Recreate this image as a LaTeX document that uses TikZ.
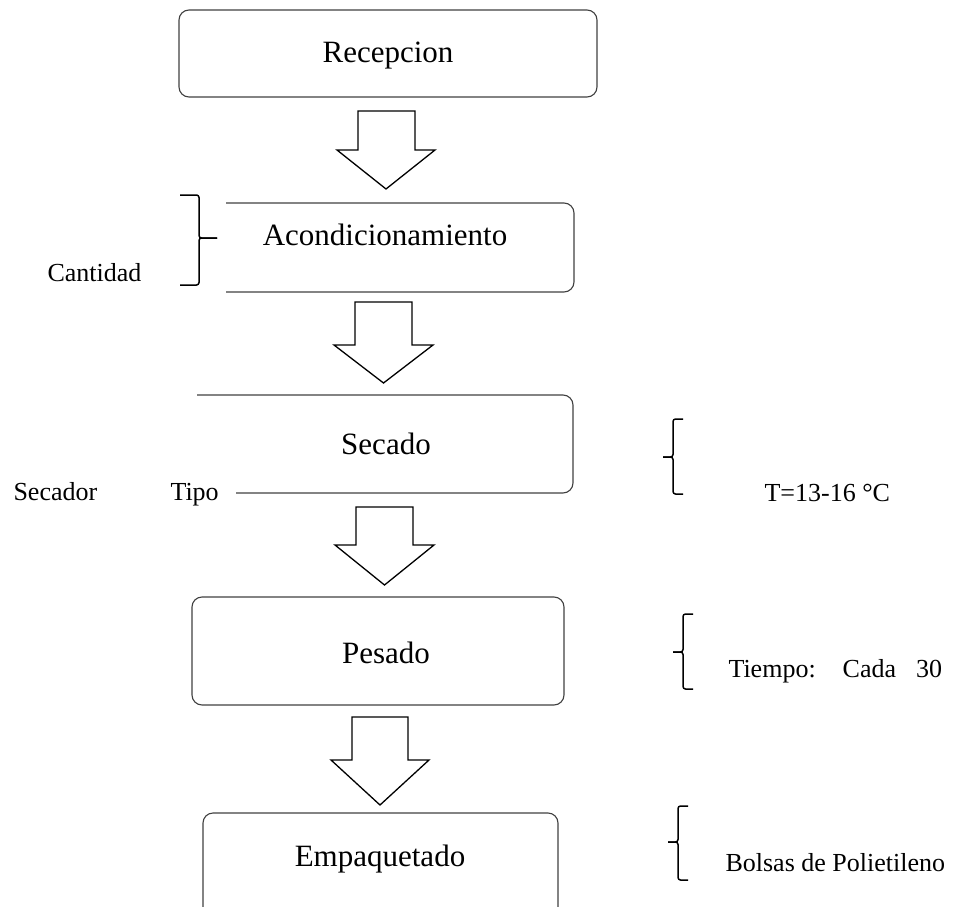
\documentclass[tikz,border=0pt]{standalone}
\usepackage{fontspec}
\setmainfont{Liberation Serif}
\begin{document}
\begin{tikzpicture}[x=1pt,y=-1pt,
  boxline/.style={draw=black!75, line width=1.1pt, rounded corners=10pt},
  blockarrow/.style={draw=black, line width=1.3pt, line join=miter},
  bracel/.style={draw=black, line width=1.5pt, rounded corners=2.5pt},
  boxtext/.style={anchor=base, font=\fontsize{31}{37}\selectfont},
  labeltext/.style={anchor=base west, font=\fontsize{26}{31}\selectfont}]
\useasboundingbox (0,0) rectangle (961,907);
\clip (0,0) rectangle (961,907);
% boxes
\draw[boxline] (179,10) rectangle (597,97);
\draw[boxline] (226,203) -- (574,203) -- (574,292) -- (226,292);
\draw[boxline] (197,395) -- (573,395) -- (573,493) -- (236,493);
\draw[boxline] (192,597) rectangle (564,705);
\draw[boxline] (203,813) rectangle (558,920);
% box texts
\node[boxtext] (rec) at (388,63) {Recepcion};
\node[boxtext] (aco) at (385,245) {Acondicionamiento};
\node[boxtext] (sec) at (386,454) {Secado};
\node[boxtext] (pes) at (386,663) {Pesado};
\node[boxtext] (emp) at (380,866) {Empaquetado};
% block arrows
\draw[blockarrow] (358,111) -- (415,111) -- (415,150) -- (435,150) -- (386,189) -- (337,150) -- (358,150) -- cycle;
\draw[blockarrow] (355,302) -- (412,302) -- (412,345) -- (433,345) -- (383.5,383) -- (334,345) -- (355,345) -- cycle;
\draw[blockarrow] (356,507) -- (413,507) -- (413,545) -- (434,545) -- (384.5,585) -- (335,545) -- (356,545) -- cycle;
\draw[blockarrow] (352,717) -- (408,717) -- (408,760) -- (429,760) -- (380,805) -- (331,760) -- (352,760) -- cycle;
% braces
\draw[bracel] (180,195) -- (199,195) -- (199,238) -- (217,238);
\draw[bracel] (217,238) -- (199,238) -- (199,285) -- (180,285);
\draw[bracel] (683,419) -- (673,419) -- (673,457) -- (663,457);
\draw[bracel] (663,457) -- (673,457) -- (673,494) -- (683,494);
\draw[bracel] (693,614) -- (683,614) -- (683,652) -- (673,652);
\draw[bracel] (673,652) -- (683,652) -- (683,689) -- (693,689);
\draw[bracel] (688,806) -- (678,806) -- (678,842) -- (668,842);
\draw[bracel] (668,842) -- (678,842) -- (678,880) -- (688,880);
% labels
\node[labeltext] (cant) at (44,281) {Cantidad};
\node[labeltext] (secador) at (10,500) {Secador};
\node[labeltext] (tipo) at (167,500) {Tipo};
\node[labeltext] (temp) at (761,501) {T=13-16 °C};
\node[labeltext] (tiempo) at (725,677) {Tiempo:\hspace{27pt}Cada\hspace{20pt}30};
\node[labeltext] (bolsas) at (722,871) {Bolsas de Polietileno};
\end{tikzpicture}
\end{document}
